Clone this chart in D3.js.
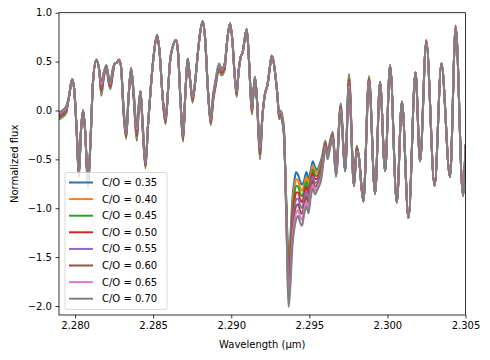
<!DOCTYPE html>
<html>
  <head>
    <meta charset="utf-8">
    <script src="https://d3js.org/d3.v7.min.js"></script>
    <style>
      body { margin: 0; background: #fff; }
      text { font-family: "DejaVu Sans", sans-serif; font-size: 10px; fill: #000; }
    </style>
  </head>
<body>
<script>
  "use strict";

  // wavelength grid (micron)
  var wavelength = [
    2.27898, 2.27917, 2.27942, 2.27962, 2.27981, 2.27994, 2.28010, 2.28024, 2.28038, 2.28051,
    2.28064, 2.28083, 2.28099, 2.28115, 2.28136, 2.28154, 2.28168, 2.28182, 2.28200, 2.28214,
    2.28226, 2.28240, 2.28254, 2.28269, 2.28282, 2.28294, 2.28310, 2.28327, 2.28343, 2.28359,
    2.28375, 2.28395, 2.28407, 2.28419, 2.28432, 2.28451, 2.28467, 2.28487, 2.28506, 2.28525,
    2.28541, 2.28560, 2.28579, 2.28595, 2.28608, 2.28625, 2.28647, 2.28659, 2.28675, 2.28691,
    2.28707, 2.28721, 2.28736, 2.28752, 2.28768, 2.28787, 2.28803, 2.28818, 2.28832, 2.28851,
    2.28869, 2.28883, 2.28899, 2.28922, 2.28938, 2.28957, 2.28973, 2.28992, 2.29008, 2.29021,
    2.29035, 2.29047, 2.29061, 2.29074, 2.29085, 2.29099, 2.29114, 2.29132, 2.29143, 2.29152,
    2.29165, 2.29184, 2.29200, 2.29216, 2.29232, 2.29248, 2.29259, 2.29271, 2.29284, 2.29296,
    2.29306, 2.29316, 2.29328, 2.29338, 2.29351, 2.29368, 2.29380, 2.29392, 2.29405, 2.29415,
    2.29428, 2.29440, 2.29453, 2.29466, 2.29481, 2.29495, 2.29508, 2.29522, 2.29537, 2.29549,
    2.29564, 2.29575, 2.29588, 2.29602, 2.29617, 2.29633, 2.29650, 2.29671, 2.29701, 2.29729,
    2.29754, 2.29786, 2.29803, 2.29815, 2.29846, 2.29882, 2.29921, 2.29953, 2.29985, 2.30017,
    2.30060, 2.30093, 2.30135, 2.30180, 2.30209, 2.30249, 2.30302, 2.30346, 2.30401, 2.30437,
    2.30484, 2.30500
  ];

  var flux035 = [
    -0.09, -0.07, -0.03, 0.15, 0.32, 0.22, -0.20, -0.69, -0.20, 0.00,
    -0.20, -0.79, -0.30, 0.30, 0.52, 0.42, 0.15, 0.31, 0.46, 0.29,
    0.22, 0.35, 0.48, 0.49, 0.52, 0.45, -0.02, -0.29, 0.15, 0.43,
    0.13, -0.31, -0.02, 0.20, -0.17, -0.59, -0.15, 0.28, 0.60, 0.77,
    0.60, 0.15, -0.14, 0.20, 0.50, 0.65, 0.72, 0.60, 0.10, -0.32,
    0.20, 0.53, 0.32, 0.08, 0.28, 0.60, 0.82, 0.91, 0.75, 0.20,
    -0.15, 0.08, 0.24, 0.41, 0.36, 0.41, 0.70, 0.89, 0.70, 0.38,
    0.14, 0.40, 0.55, 0.60, 0.72, 0.83, 0.50, -0.04, 0.20, 0.34,
    0.10, -0.50, -0.05, 0.17, 0.26, 0.45, 0.56, 0.50, 0.34, 0.15,
    -0.09, -0.07, -0.13, -0.27, -0.86, -1.52, -1.26, -0.89, -0.71, -0.63,
    -0.66, -0.72, -0.76, -0.72, -0.63, -0.70, -0.62, -0.52, -0.58, -0.61,
    -0.56, -0.51, -0.42, -0.31, -0.43, -0.31, -0.22, -0.61, 0.07, -0.62,
    0.37, -0.77, -0.36, -0.45, -0.93, 0.35, -0.85, 0.29, -0.62, 0.46,
    -0.94, 0.09, -1.10, 0.39, -0.52, 0.70, -0.77, 0.48, -0.68, 0.85,
    -0.87, -0.35
  ];
  var flux040 = [
    -0.08, -0.06, -0.02, 0.15, 0.32, 0.22, -0.20, -0.68, -0.20, 0.00,
    -0.20, -0.78, -0.30, 0.30, 0.52, 0.42, 0.17, 0.32, 0.46, 0.30,
    0.23, 0.36, 0.48, 0.49, 0.52, 0.45, -0.01, -0.28, 0.15, 0.43,
    0.14, -0.29, -0.01, 0.20, -0.16, -0.58, -0.15, 0.28, 0.60, 0.77,
    0.60, 0.15, -0.13, 0.20, 0.50, 0.65, 0.72, 0.60, 0.10, -0.31,
    0.20, 0.53, 0.32, 0.09, 0.28, 0.60, 0.82, 0.91, 0.75, 0.20,
    -0.14, 0.09, 0.25, 0.42, 0.37, 0.42, 0.70, 0.89, 0.70, 0.38,
    0.15, 0.40, 0.55, 0.60, 0.72, 0.83, 0.50, -0.03, 0.20, 0.34,
    0.10, -0.48, -0.05, 0.17, 0.26, 0.45, 0.56, 0.50, 0.34, 0.15,
    -0.08, -0.06, -0.12, -0.26, -0.88, -1.59, -1.33, -0.96, -0.78, -0.70,
    -0.72, -0.78, -0.82, -0.77, -0.68, -0.75, -0.66, -0.56, -0.62, -0.64,
    -0.59, -0.54, -0.44, -0.32, -0.44, -0.32, -0.23, -0.62, 0.06, -0.62,
    0.35, -0.77, -0.37, -0.45, -0.93, 0.34, -0.85, 0.29, -0.62, 0.46,
    -0.94, 0.09, -1.10, 0.39, -0.52, 0.70, -0.77, 0.48, -0.68, 0.85,
    -0.87, -0.35
  ];
  var flux045 = [
    -0.07, -0.05, -0.01, 0.15, 0.32, 0.22, -0.20, -0.67, -0.20, 0.00,
    -0.20, -0.77, -0.30, 0.30, 0.52, 0.42, 0.19, 0.33, 0.46, 0.31,
    0.24, 0.37, 0.48, 0.49, 0.52, 0.45, 0.00, -0.27, 0.15, 0.43,
    0.15, -0.27, 0.00, 0.20, -0.15, -0.57, -0.15, 0.28, 0.60, 0.77,
    0.60, 0.15, -0.12, 0.20, 0.50, 0.65, 0.72, 0.60, 0.10, -0.30,
    0.20, 0.53, 0.32, 0.10, 0.28, 0.60, 0.82, 0.91, 0.75, 0.20,
    -0.13, 0.10, 0.26, 0.43, 0.38, 0.43, 0.70, 0.89, 0.70, 0.38,
    0.16, 0.40, 0.55, 0.60, 0.72, 0.83, 0.50, -0.02, 0.20, 0.34,
    0.10, -0.46, -0.05, 0.17, 0.26, 0.45, 0.56, 0.50, 0.34, 0.15,
    -0.07, -0.05, -0.11, -0.25, -0.90, -1.66, -1.40, -1.03, -0.85, -0.77,
    -0.78, -0.84, -0.88, -0.82, -0.73, -0.80, -0.70, -0.60, -0.66, -0.67,
    -0.62, -0.57, -0.46, -0.33, -0.45, -0.33, -0.24, -0.63, 0.05, -0.62,
    0.33, -0.77, -0.38, -0.45, -0.93, 0.33, -0.85, 0.29, -0.62, 0.46,
    -0.94, 0.09, -1.10, 0.39, -0.52, 0.70, -0.77, 0.48, -0.68, 0.85,
    -0.87, -0.35
  ];
  var flux050 = [
    -0.06, -0.04, 0.00, 0.15, 0.32, 0.22, -0.20, -0.66, -0.20, 0.00,
    -0.20, -0.76, -0.30, 0.30, 0.52, 0.42, 0.21, 0.34, 0.46, 0.32,
    0.25, 0.38, 0.48, 0.49, 0.52, 0.45, 0.01, -0.26, 0.15, 0.43,
    0.16, -0.25, 0.01, 0.20, -0.14, -0.56, -0.15, 0.28, 0.60, 0.77,
    0.60, 0.15, -0.11, 0.20, 0.50, 0.65, 0.72, 0.60, 0.10, -0.29,
    0.20, 0.53, 0.32, 0.11, 0.28, 0.60, 0.82, 0.91, 0.75, 0.20,
    -0.12, 0.11, 0.27, 0.44, 0.39, 0.44, 0.70, 0.89, 0.70, 0.38,
    0.17, 0.40, 0.55, 0.60, 0.72, 0.83, 0.50, -0.01, 0.20, 0.34,
    0.10, -0.44, -0.05, 0.17, 0.26, 0.45, 0.56, 0.50, 0.34, 0.15,
    -0.06, -0.04, -0.10, -0.24, -0.92, -1.73, -1.47, -1.10, -0.92, -0.84,
    -0.84, -0.90, -0.94, -0.87, -0.78, -0.85, -0.74, -0.64, -0.70, -0.70,
    -0.65, -0.60, -0.48, -0.34, -0.46, -0.34, -0.25, -0.64, 0.04, -0.62,
    0.31, -0.77, -0.39, -0.45, -0.93, 0.32, -0.85, 0.29, -0.62, 0.46,
    -0.94, 0.09, -1.10, 0.39, -0.52, 0.72, -0.77, 0.48, -0.68, 0.87,
    -0.87, -0.35
  ];
  var flux055 = [
    -0.05, -0.03, 0.01, 0.15, 0.32, 0.22, -0.20, -0.65, -0.20, 0.00,
    -0.20, -0.75, -0.30, 0.30, 0.52, 0.42, 0.23, 0.35, 0.46, 0.33,
    0.26, 0.39, 0.48, 0.49, 0.52, 0.45, 0.02, -0.25, 0.15, 0.43,
    0.17, -0.23, 0.02, 0.20, -0.13, -0.55, -0.15, 0.28, 0.60, 0.77,
    0.60, 0.15, -0.10, 0.20, 0.50, 0.65, 0.72, 0.60, 0.10, -0.28,
    0.20, 0.53, 0.32, 0.12, 0.28, 0.60, 0.82, 0.91, 0.75, 0.20,
    -0.11, 0.12, 0.28, 0.45, 0.40, 0.45, 0.70, 0.89, 0.70, 0.38,
    0.18, 0.40, 0.55, 0.60, 0.72, 0.83, 0.50, 0.00, 0.20, 0.34,
    0.10, -0.42, -0.05, 0.17, 0.26, 0.45, 0.56, 0.50, 0.34, 0.15,
    -0.05, -0.03, -0.09, -0.23, -0.94, -1.80, -1.54, -1.17, -0.99, -0.91,
    -0.90, -0.96, -1.00, -0.92, -0.83, -0.90, -0.78, -0.68, -0.74, -0.73,
    -0.68, -0.63, -0.50, -0.35, -0.47, -0.35, -0.26, -0.65, 0.03, -0.62,
    0.29, -0.77, -0.40, -0.45, -0.93, 0.31, -0.85, 0.29, -0.62, 0.46,
    -0.94, 0.09, -1.10, 0.39, -0.52, 0.70, -0.77, 0.48, -0.68, 0.85,
    -0.87, -0.35
  ];
  var flux060 = [
    -0.04, -0.02, 0.02, 0.15, 0.32, 0.22, -0.20, -0.64, -0.20, 0.00,
    -0.20, -0.74, -0.30, 0.30, 0.52, 0.42, 0.25, 0.36, 0.46, 0.34,
    0.27, 0.40, 0.48, 0.49, 0.52, 0.45, 0.03, -0.24, 0.15, 0.43,
    0.18, -0.21, 0.03, 0.20, -0.12, -0.54, -0.15, 0.28, 0.60, 0.77,
    0.60, 0.15, -0.09, 0.20, 0.50, 0.65, 0.72, 0.60, 0.10, -0.27,
    0.20, 0.53, 0.32, 0.13, 0.28, 0.60, 0.82, 0.91, 0.75, 0.20,
    -0.10, 0.13, 0.29, 0.46, 0.41, 0.46, 0.70, 0.89, 0.70, 0.38,
    0.19, 0.40, 0.55, 0.60, 0.72, 0.83, 0.50, 0.01, 0.20, 0.34,
    0.10, -0.40, -0.05, 0.17, 0.26, 0.45, 0.56, 0.50, 0.34, 0.15,
    -0.04, -0.02, -0.08, -0.22, -0.96, -1.87, -1.61, -1.24, -1.06, -0.98,
    -0.96, -1.02, -1.06, -0.97, -0.88, -0.95, -0.82, -0.72, -0.78, -0.76,
    -0.71, -0.66, -0.52, -0.36, -0.48, -0.36, -0.27, -0.66, 0.02, -0.62,
    0.27, -0.77, -0.41, -0.45, -0.93, 0.30, -0.85, 0.29, -0.62, 0.46,
    -0.94, 0.09, -1.10, 0.39, -0.52, 0.70, -0.77, 0.48, -0.68, 0.85,
    -0.87, -0.35
  ];
  var flux065 = [
    -0.03, -0.01, 0.03, 0.15, 0.32, 0.22, -0.20, -0.63, -0.20, 0.00,
    -0.20, -0.73, -0.30, 0.30, 0.52, 0.42, 0.27, 0.37, 0.46, 0.35,
    0.28, 0.41, 0.48, 0.49, 0.52, 0.45, 0.04, -0.23, 0.15, 0.43,
    0.19, -0.19, 0.04, 0.20, -0.11, -0.53, -0.15, 0.28, 0.60, 0.77,
    0.60, 0.15, -0.08, 0.20, 0.50, 0.65, 0.72, 0.60, 0.10, -0.26,
    0.20, 0.53, 0.32, 0.14, 0.28, 0.60, 0.82, 0.91, 0.75, 0.20,
    -0.09, 0.14, 0.30, 0.47, 0.42, 0.47, 0.70, 0.89, 0.70, 0.38,
    0.20, 0.40, 0.55, 0.60, 0.72, 0.83, 0.50, 0.02, 0.20, 0.34,
    0.10, -0.38, -0.05, 0.17, 0.26, 0.45, 0.56, 0.50, 0.34, 0.15,
    -0.03, -0.01, -0.07, -0.21, -0.98, -1.94, -1.68, -1.31, -1.13, -1.05,
    -1.02, -1.08, -1.12, -1.02, -0.93, -1.00, -0.86, -0.76, -0.82, -0.79,
    -0.74, -0.69, -0.54, -0.37, -0.49, -0.37, -0.28, -0.67, 0.01, -0.62,
    0.25, -0.77, -0.42, -0.45, -0.93, 0.29, -0.85, 0.29, -0.62, 0.46,
    -0.94, 0.09, -1.10, 0.39, -0.52, 0.70, -0.77, 0.48, -0.68, 0.85,
    -0.87, -0.35
  ];
  var flux070 = [
    -0.02, 0.00, 0.04, 0.15, 0.32, 0.22, -0.20, -0.62, -0.20, 0.00,
    -0.20, -0.72, -0.30, 0.30, 0.52, 0.42, 0.29, 0.38, 0.46, 0.36,
    0.29, 0.42, 0.48, 0.49, 0.52, 0.45, 0.05, -0.22, 0.15, 0.43,
    0.20, -0.17, 0.05, 0.20, -0.10, -0.52, -0.15, 0.28, 0.60, 0.77,
    0.60, 0.15, -0.07, 0.20, 0.50, 0.65, 0.72, 0.60, 0.10, -0.25,
    0.20, 0.53, 0.32, 0.15, 0.28, 0.60, 0.82, 0.91, 0.75, 0.20,
    -0.08, 0.15, 0.31, 0.48, 0.43, 0.48, 0.70, 0.89, 0.70, 0.38,
    0.21, 0.40, 0.55, 0.60, 0.72, 0.83, 0.50, 0.03, 0.20, 0.34,
    0.10, -0.36, -0.05, 0.17, 0.26, 0.45, 0.56, 0.50, 0.34, 0.15,
    -0.02, 0.00, -0.06, -0.20, -1.00, -2.01, -1.75, -1.38, -1.20, -1.12,
    -1.08, -1.14, -1.18, -1.07, -0.98, -1.05, -0.90, -0.80, -0.86, -0.82,
    -0.77, -0.72, -0.56, -0.38, -0.50, -0.38, -0.29, -0.68, 0.00, -0.62,
    0.23, -0.77, -0.43, -0.45, -0.93, 0.28, -0.85, 0.29, -0.62, 0.46,
    -0.94, 0.09, -1.10, 0.39, -0.52, 0.70, -0.77, 0.48, -0.68, 0.85,
    -0.87, -0.35
  ];

  var labels = ["C/O = 0.35", "C/O = 0.40", "C/O = 0.45", "C/O = 0.50",
                "C/O = 0.55", "C/O = 0.60", "C/O = 0.65", "C/O = 0.70"];
  var colors = ["#1f77b4", "#ff7f0e", "#2ca02c", "#d62728",
                "#9467bd", "#8c564b", "#e377c2", "#7f7f7f"];
  var xTicks = [2.280, 2.285, 2.290, 2.295, 2.300, 2.305];
  var yTicks = [-2.0, -1.5, -1.0, -0.5, 0.0, 0.5, 1.0];

  var series = [flux035, flux040, flux045, flux050, flux055, flux060, flux065, flux070];

  var width = 490, height = 360;
  var margin = {left: 59, right: 24.5, top: 12.7, bottom: 45};
  var plotW = width - margin.left - margin.right,
      plotH = height - margin.top - margin.bottom;

  var svg = d3.select("body").append("svg")
      .attr("width", width)
      .attr("height", height);

  var x = d3.scaleLinear().domain([2.27897, 2.305]).range([0, plotW]);
  var y = d3.scaleLinear().domain([-2.092, 1.0]).range([plotH, 0]);

  var g = svg.append("g")
      .attr("transform", "translate(" + margin.left + "," + margin.top + ")");

  g.append("clipPath").attr("id", "clip")
    .append("rect").attr("width", plotW).attr("height", plotH);

  var line = d3.line()
      .x(function (d) { return x(d[0]); })
      .y(function (d) { return y(d[1]); })
      .curve(d3.curveMonotoneX);

  var lines = g.append("g").attr("clip-path", "url(#clip)");
  series.forEach(function (s, i) {
    lines.append("path")
        .datum(wavelength.map(function (w, j) { return [w, s[j]]; }))
        .attr("fill", "none")
        .attr("stroke", colors[i])
        .attr("stroke-width", 2)
        .attr("stroke-linejoin", "round")
        .attr("d", line);
  });

  var fmtY = function (d) { return d3.format(".1f")(d).replace("-", "\u2212"); };

  var xAxis = g.append("g")
      .attr("transform", "translate(0," + plotH + ")")
      .call(d3.axisBottom(x).tickValues(xTicks).tickFormat(d3.format(".3f"))
        .tickSize(3.5).tickPadding(3.5));
  var yAxis = g.append("g")
      .call(d3.axisLeft(y).tickValues(yTicks).tickFormat(fmtY)
        .tickSize(3.5).tickPadding(3.5));
  [xAxis, yAxis].forEach(function (a) {
    a.select(".domain").remove();
    a.selectAll("line").attr("stroke", "#000").attr("stroke-width", 0.8);
    a.selectAll("text").style("font-family", "DejaVu Sans").style("font-size", "10px");
  });

  // frame
  g.append("rect")
      .attr("width", plotW).attr("height", plotH)
      .attr("fill", "none").attr("stroke", "#000").attr("stroke-width", 0.8);

  svg.append("text")
      .attr("x", margin.left + plotW / 2).attr("y", 348)
      .attr("text-anchor", "middle")
      .text("Wavelength (\u00b5m)");
  svg.append("text")
      .attr("transform", "translate(17.5," + (margin.top + plotH / 2) + ") rotate(-90)")
      .attr("text-anchor", "middle")
      .text("Normalized flux");

  // legend
  var leg = svg.append("g").attr("transform", "translate(65,172.5)");
  leg.append("rect")
      .attr("width", 102).attr("height", 137).attr("rx", 2.5)
      .attr("fill", "#fff").attr("fill-opacity", 0.8)
      .attr("stroke", "#ccc").attr("stroke-width", 0.8);
  labels.forEach(function (l, i) {
    var yy = 10 + i * 16.6;
    leg.append("line")
        .attr("x1", 4).attr("x2", 28).attr("y1", yy).attr("y2", yy)
        .attr("stroke", colors[i]).attr("stroke-width", 2);
    leg.append("text")
        .attr("x", 37).attr("y", yy).attr("dy", "0.35em")
        .text(l);
  });
</script>
</body>
</html>
